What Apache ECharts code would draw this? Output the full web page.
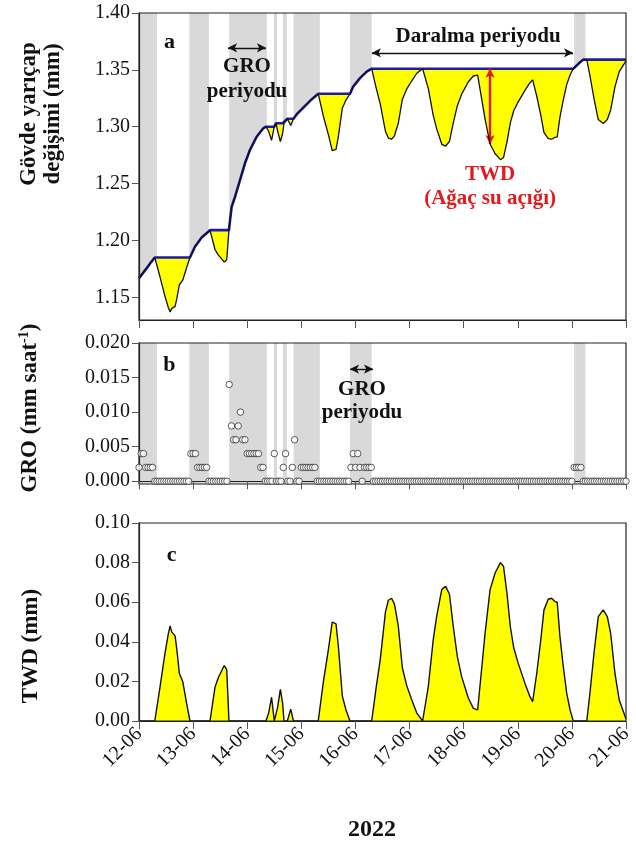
<!DOCTYPE html>
<html>
<head>
<meta charset="utf-8">
<script src="https://cdn.jsdelivr.net/npm/echarts@6/dist/echarts.min.js"></script>
<style>html,body{margin:0;padding:0;background:#fff}#c{width:636px;height:848px}</style>
</head>
<body>
<div id="c"></div>
<script>
// ---------- DATA ----------
const dayLabels = ['12-06','13-06','14-06','15-06','16-06','17-06','18-06','19-06','20-06','21-06'];
const radiusTicks = [1.15, 1.20, 1.25, 1.30, 1.35, 1.40];
const groTicks = [0, 0.005, 0.010, 0.015, 0.020];
const twdTicks = [0, 0.02, 0.04, 0.06, 0.08, 0.10];

// time in hours since 12-06 00:00
const tHours = [
  0,3,5,7,
  9.3,11.5,13,13.8,14.5,16,16.8,17.9,19.4,21.1,22.6,
  24.8,27.8,31.5,
  33.7,35.2,37.8,38.9,39.9,
  40.4,41.1,42.6,44.8,47,49.2,52.2,55.1,56.3,
  57.5,58.8,60,
  60.8,61.5,62.7,63.7,64.3,
  65.8,67.3,68.5,
  70,72.5,76,79.5,
  81.8,84,85.7,87.4,88.4,90.2,91.8,93.6,
  95,98,101,103.2,
  105.2,107,109.3,110.6,112,113.3,115,116.8,118.7,121,123.2,125.8,
  128.3,130.5,132,134.3,136,137.7,139.4,141.2,143.1,146.1,148.3,150.2,
  151.2,153.5,155.7,157.9,160.3,161.7,163.2,164.7,166.2,168.2,171.2,173.4,174.6,
  176.4,178.2,179.6,181.5,183,184.5,185.5,186.7,188.2,189.7,191.2,
  192.6,195,197,198.6,
  200,201.8,203.7,205.9,207.7,209.2,211.1,213,215.1,216
];
// maximum stem radius reached so far (blue line, mm)
const envelopeMm = [
  1.1667,1.1745,1.1800,1.1850,
  1.185,1.185,1.185,1.185,1.185,1.185,1.185,1.185,1.185,1.185,1.185,
  1.1944,1.2026,1.209,
  1.209,1.209,1.209,1.209,1.209,
  1.218,1.2296,1.2384,1.253,1.2678,1.2795,1.2912,1.2986,1.300,
  1.300,1.300,1.300,
  1.303,1.303,1.303,1.303,1.303,
  1.307,1.307,1.307,
  1.311,1.316,1.323,1.329,
  1.329,1.329,1.329,1.329,1.329,1.329,1.329,1.329,
  1.3353,1.3427,1.3485,1.351,
  1.351,1.351,1.351,1.351,1.351,1.351,1.351,1.351,1.351,1.351,1.351,1.351,
  1.351,1.351,1.351,1.351,1.351,1.351,1.351,1.351,1.351,1.351,1.351,1.351,
  1.351,1.351,1.351,1.351,1.351,1.351,1.351,1.351,1.351,1.351,1.351,1.351,1.351,
  1.351,1.351,1.351,1.351,1.351,1.351,1.351,1.351,1.351,1.351,1.351,
  1.351,1.3555,1.359,1.359,
  1.359,1.359,1.359,1.359,1.359,1.359,1.359,1.359,1.359,1.359
];
// tree water deficit (panel c, mm)
const twdMm = [
  0,0,0,0,
  0.017,0.034,0.044,0.048,0.045,0.043,0.036,0.024,0.020,0.009,0,
  0,0,0,
  0.017,0.022,0.028,0.026,0,
  0,0,0,0,0,0,0,0,0,
  0.004,0.012,0,
  0,0.007,0.016,0.009,0,
  0,0.006,0,
  0,0,0,0,
  0.020,0.036,0.050,0.049,0.038,0.0125,0.0056,0,
  0,0,0,0,
  0.017,0.031,0.055,0.061,0.062,0.059,0.048,0.027,0.018,0.0106,0.004,0,
  0.0173,0.041,0.0527,0.0665,0.068,0.064,0.0476,0.0325,0.0224,0.0115,0.0064,0.0056,
  0.0173,0.0443,0.0662,0.0746,0.080,0.078,0.0645,0.0476,0.037,0.0291,0.019,0.0123,0.0098,
  0.024,0.0409,0.056,0.0615,0.062,0.0603,0.060,0.0426,0.0274,0.014,0.0056,
  0,0,0,0,
  0.014,0.0342,0.0527,0.0561,0.0527,0.0443,0.024,0.0106,0.0039,0.001
];
// hourly growth GRO (mm per hour), one row per day
const groHourly = [
  0.002,0.004,0.004,0.002,0.002,0.002,0.002,0,0,0,0,0,0,0,0,0,0,0,0,0,0,0,0,0.004,
  0.004,0.004,0.002,0.002,0.002,0.002,0.002,0,0,0,0,0,0,0,0,0,0.014,0.008,0.006,0.006,0.008,0.010,0.006,0.006,
  0.004,0.004,0.004,0.004,0.004,0.004,0.002,0.002,0,0,0,0,0.004,0,0,0,0.002,0.004,0,0,0.002,0.006,0,0,
  0.002,0.002,0.002,0.002,0.002,0.002,0.002,0,0,0,0,0,0,0,0,0,0,0,0,0,0,0,0.002,0.004,
  0.002,0.004,0.002,0,0.002,0.002,0.002,0.002,0,0,0,0,0,0,0,0,0,0,0,0,0,0,0,0,
  0,0,0,0,0,0,0,0,0,0,0,0,0,0,0,0,0,0,0,0,0,0,0,0,
  0,0,0,0,0,0,0,0,0,0,0,0,0,0,0,0,0,0,0,0,0,0,0,0,
  0,0,0,0,0,0,0,0,0,0,0,0,0,0,0,0,0,0,0,0,0,0,0,0,
  0,0.002,0.002,0.002,0.002,0,0,0,0,0,0,0,0,0,0,0,0,0,0,0,0,0,0,0,
  0
];
// growth (GRO) periods shaded grey, [start hour, end hour]
const groPeriods = [[0,8],[22.3,31],[40,56.7],[59.8,61.2],[63.8,65.6],[68.6,80.2],[93.6,103.2],[193,198]];

// ---------- CHART ----------
const SERIF = '"Liberation Serif","Times New Roman",serif';
const radiusMm = envelopeMm.map((e, i) => +(e - twdMm[i]).toFixed(5));
const pairs = arr => tHours.map((t, i) => [t, arr[i]]);

const L = 139, W = 487;
const grids = [
  {left: L, top: 13, width: W, height: 307},
  {left: L, top: 343, width: W, height: 141},
  {left: L, top: 523, width: W, height: 198}
].map(g => Object.assign(g, {show: true, borderColor: '#222', borderWidth: 1.2, z: 10, containLabel: false}));

function xAx(i, showLabel) {
  return {
    type: 'value', gridIndex: i, min: 0, max: 216, interval: 24, z: 10,
    axisLine: {show: true, lineStyle: {color: '#222', width: 1.2}},
    axisTick: {show: true, length: 8, inside: false, lineStyle: {color: '#555', width: 1}},
    axisLabel: {show: showLabel, rotate: 45, margin: 10, fontSize: 20, color: '#111', fontFamily: SERIF,
      formatter: v => dayLabels[Math.round(v / 24)]},
    splitLine: {show: false}
  };
}
function yAx(i, min, max, ticks, digits) {
  return {
    type: 'value', gridIndex: i, min: min, max: max, z: 10,
    axisLine: {show: true, lineStyle: {color: '#222', width: 1.2}},
    axisTick: {show: true, length: 7, inside: false, customValues: ticks, lineStyle: {color: '#555', width: 1}},
    axisLabel: {show: true, customValues: ticks, margin: 9, fontSize: 20, color: '#111', fontFamily: SERIF,
      formatter: v => v.toFixed(digits)},
    splitLine: {show: false}
  };
}

const bandArea = {
  silent: true,
  itemStyle: {color: '#d9d9d9'},
  data: groPeriods.map(p => [{xAxis: p[0]}, {xAxis: p[1]}])
};
const arrowLine = (color, width, a, b) => ({
  silent: true, symbol: ['arrow', 'arrow'], symbolSize: [7, 9],
  label: {show: false}, emphasis: {disabled: true},
  lineStyle: {color: color, width: width, type: 'solid'},
  data: [[{coord: a}, {coord: b}]]
});

const redIdx = tHours.indexOf(155.7);

const option = {
  animation: false,
  backgroundColor: '#fff',
  grid: grids,
  xAxis: [xAx(0, false), xAx(1, false), xAx(2, true)],
  yAxis: [yAx(0, 1.13, 1.40, radiusTicks, 2), yAx(1, -0.0004, 0.020, groTicks, 3), yAx(2, 0, 0.10, twdTicks, 2)],
  series: [
    // panel a
    {type: 'line', xAxisIndex: 0, yAxisIndex: 0, data: [], z: 1, markArea: bandArea},
    {type: 'line', xAxisIndex: 0, yAxisIndex: 0, data: pairs(envelopeMm), z: 2, showSymbol: false, silent: true,
      lineStyle: {width: 0, opacity: 0}, areaStyle: {color: '#ffff00', opacity: 1, origin: 'start'}},
    {type: 'line', xAxisIndex: 0, yAxisIndex: 0, data: pairs(radiusMm), z: 3, showSymbol: false, silent: true,
      lineStyle: {width: 0, opacity: 0}, areaStyle: {color: '#ffffff', opacity: 1, origin: 'start'}},
    {type: 'line', xAxisIndex: 0, yAxisIndex: 0, data: pairs(envelopeMm), z: 4, showSymbol: false, silent: true,
      lineStyle: {color: '#1c1ca8', width: 2.6}},
    {type: 'line', xAxisIndex: 0, yAxisIndex: 0, data: pairs(radiusMm), z: 5, showSymbol: false, silent: true,
      lineStyle: {color: '#111', width: 1.3},
      markLine: arrowLine('#111', 1.4, [39.5, 1.3694], [56.3, 1.3694])},
    {type: 'line', xAxisIndex: 0, yAxisIndex: 0, data: [], z: 6,
      markLine: arrowLine('#111', 1.4, [103.3, 1.365], [192.5, 1.365])},
    {type: 'line', xAxisIndex: 0, yAxisIndex: 0, data: [], z: 6,
      markLine: arrowLine('#e3191c', 2.4, [tHours[redIdx], envelopeMm[redIdx]], [tHours[redIdx], radiusMm[redIdx]])},
    // panel b
    {type: 'line', xAxisIndex: 1, yAxisIndex: 1, data: [], z: 1, markArea: bandArea,
      markLine: arrowLine('#111', 1.4, [93.6, 0.01623], [103.8, 0.01623])},
    {type: 'scatter', xAxisIndex: 1, yAxisIndex: 1, z: 12, clip: false, silent: true,
      data: groHourly.map((v, i) => [i, v]), symbol: 'circle', symbolSize: 6.5,
      itemStyle: {color: '#fff', borderColor: '#333', borderWidth: 1}},
    // panel c
    {type: 'line', xAxisIndex: 2, yAxisIndex: 2, data: pairs(twdMm), z: 3, showSymbol: false, silent: true,
      lineStyle: {color: '#111', width: 1.4}, areaStyle: {color: '#ffff00', opacity: 1, origin: 'start'}}
  ]
};

const chart = echarts.init(document.getElementById('c'), null, {renderer: 'canvas', width: 636, height: 848});
chart.setOption(option);

// ---------- TEXT ANNOTATIONS (anchored in data space) ----------
const notes = [
  {g: 0, x: 13.5, y: 1.3738, text: 'a', size: 22, color: '#111'},
  {g: 0, x: 47.9, y: 1.3526, text: 'GRO', size: 21, color: '#111'},
  {g: 0, x: 47.9, y: 1.3306, text: 'periyodu', size: 21, color: '#111'},
  {g: 0, x: 150.4, y: 1.379, text: 'Daralma periyodu', size: 21, color: '#111'},
  {g: 0, x: 155.7, y: 1.2575, text: 'TWD', size: 21, color: '#e3191c'},
  {g: 0, x: 155.7, y: 1.2372, text: '(Ağaç su açığı)', size: 21, color: '#e3191c'},
  {g: 1, x: 13.5, y: 0.0167, text: 'b', size: 22, color: '#111'},
  {g: 1, x: 98.9, y: 0.0132, text: 'GRO', size: 21, color: '#111'},
  {g: 1, x: 98.9, y: 0.0100, text: 'periyodu', size: 21, color: '#111'},
  {g: 2, x: 14.5, y: 0.0838, text: 'c', size: 22, color: '#111'}
];
const graphics = notes.map(n => {
  const p = chart.convertToPixel({gridIndex: n.g}, [n.x, n.y]);
  return {type: 'text', x: p[0], y: p[1], z: 50,
    style: {text: n.text, font: 'bold ' + n.size + 'px ' + SERIF, fill: n.color,
      align: 'center', verticalAlign: 'middle', textAlign: 'center', textVerticalAlign: 'middle'}};
});
const titleFont = 'bold 23px ' + SERIF;
function vText(x, y, text) {
  return {type: 'text', x: x, y: y, rotation: Math.PI / 2, z: 50,
    style: {text: text, font: titleFont, fill: '#111', align: 'center', verticalAlign: 'middle',
      textAlign: 'center', textVerticalAlign: 'middle'}};
}
graphics.push(vText(29, 114, 'Gövde yarıçap'));
graphics.push(vText(53, 114, 'değişimi (mm)'));
graphics.push(vText(31, 646, 'TWD (mm)'));
graphics.push({type: 'text', x: 30, y: 408, rotation: Math.PI / 2, z: 50,
  style: {text: '{n|GRO (mm saat}{s|-1}{n|)}', align: 'center', verticalAlign: 'middle',
    textAlign: 'center', textVerticalAlign: 'middle', fill: '#111',
    rich: {
      n: {fontSize: 23, fontWeight: 'bold', fontFamily: SERIF, fill: '#111', lineHeight: 26},
      s: {fontSize: 14, fontWeight: 'bold', fontFamily: SERIF, fill: '#111', verticalAlign: 'top', lineHeight: 14}
    }}});
graphics.push({type: 'text', x: 372, y: 830, z: 50,
  style: {text: '2022', font: 'bold 24px ' + SERIF, fill: '#111', align: 'center', verticalAlign: 'middle',
    textAlign: 'center', textVerticalAlign: 'middle'}});
chart.setOption({graphic: graphics});
</script>
</body>
</html>
